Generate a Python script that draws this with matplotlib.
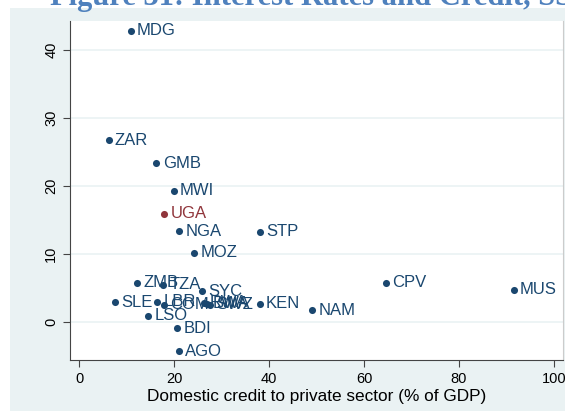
import matplotlib
matplotlib.use("Agg")
import matplotlib.pyplot as plt
from matplotlib.patches import Rectangle

##################################################
# data
##################################################

countries = ["MDG", "ZAR", "GMB", "MWI", "UGA", "NGA", "STP", "MOZ", "ZMB", "TZA",
             "SYC", "CPV", "MUS", "SLE", "LBR", "COM", "RWA", "BWA", "SWZ", "KEN",
             "NAM", "LSO", "BDI", "AGO"]
credit = [10.9, 6.25, 16.3, 19.9, 17.9, 21.05, 38.1, 24.3, 12.3, 17.75,
          25.95, 64.55, 91.5, 7.65, 16.4, 17.9, 26.25, 26.9, 27.6, 38.05,
          49.1, 14.6, 20.7, 21.05]
rates = [42.9, 26.75, 23.35, 19.3, 15.95, 13.35, 13.25, 10.2, 5.75, 5.5,
         4.55, 5.75, 4.75, 2.9, 3.0, 2.5, 2.85, 2.65, 2.55, 2.7,
         1.75, 0.9, -0.9, -4.3]
highlight = "UGA"

xticks = [0, 20, 40, 60, 80, 100]
yticks = [0, 10, 20, 30, 40]

navy = "#1a476f"
maroon = "#90353b"
bg = "#eaf2f3"

##################################################
# plot
##################################################

fig = plt.figure(figsize=(5.65, 4.12), dpi=100)
fig.patch.set_facecolor("white")

# graph region background (starts just below the cut-off title)
fig.add_artist(Rectangle((10 / 565, 1 / 412), 555 / 565, 403 / 412,
                         transform=fig.transFigure, facecolor=bg,
                         edgecolor="none", zorder=-5))

fig.text(50 / 565, 1 - 4.5 / 412, "Figure 31: Interest Rates and Credit, SSA",
         family="Liberation Serif", weight="bold", fontsize=22,
         color="#4f81bd", va="baseline", ha="left")

ax = fig.add_axes([70 / 565, 1 - 360 / 412, 493 / 565, 339 / 412])
ax.set_zorder(2)
ax.set_facecolor("white")

for c, x, y in zip(countries, credit, rates):
    col = maroon if c == highlight else navy
    ax.scatter(x, y, s=26, color=col, zorder=3, linewidths=0)
    ax.annotate(c, (x, y), xytext=(4.5, 0), textcoords="offset points",
                va="center", ha="left", fontsize=12, color=col,
                family="Liberation Sans")

ax.set_xlim(-1.9, 101.9)
ax.set_ylim(-5.6, 44.3)
ax.set_xticks(xticks)
ax.set_yticks(yticks)
ax.grid(axis="y", color=bg, linewidth=1.2, zorder=0)
ax.set_axisbelow(True)

ax.tick_params(direction="out", length=5, width=0.8, color="#444444",
               labelsize=10.5, labelcolor="black")
for lab in ax.get_xticklabels() + ax.get_yticklabels():
    lab.set_family("Liberation Sans")
plt.setp(ax.get_yticklabels(), rotation=90, va="center")

ax.set_xlabel("Domestic credit to private sector (% of GDP)",
              fontsize=12.4, family="Liberation Sans", labelpad=2)

ax.spines["top"].set_visible(False)
ax.spines["right"].set_color("#cccccc")
ax.spines["left"].set_color("#444444")
ax.spines["bottom"].set_color("#444444")

plt.savefig("out.png", dpi=100, facecolor=fig.get_facecolor())
plt.close()
